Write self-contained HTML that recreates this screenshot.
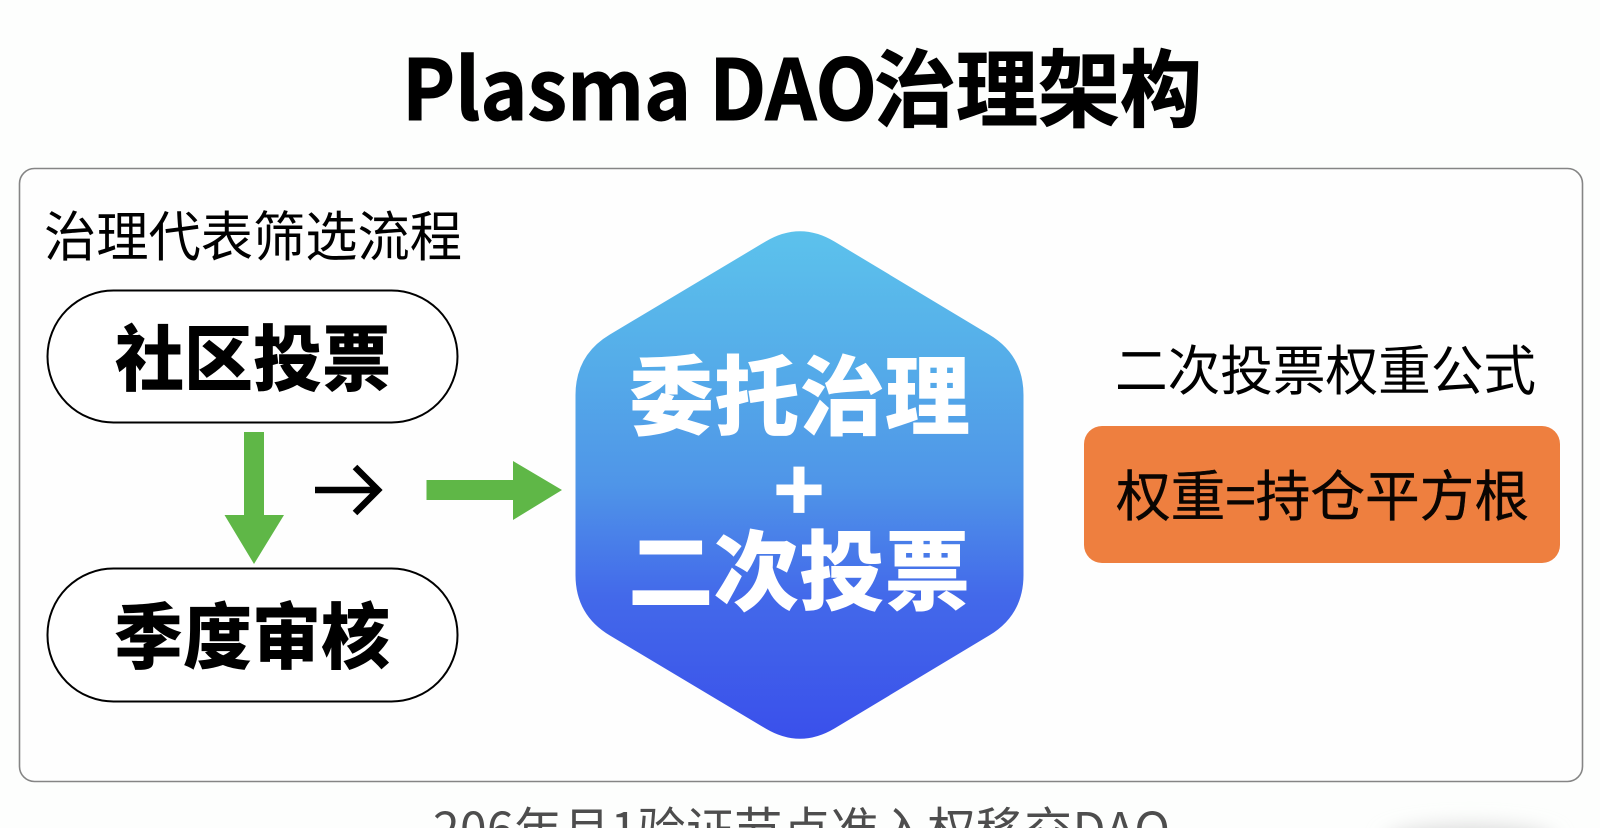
<!DOCTYPE html>
<html><head><meta charset="utf-8"><style>
html,body{margin:0;padding:0;width:1600px;height:828px;overflow:hidden;background:#fdfefd}
svg{display:block}
text{font-family:"Liberation Sans","Noto Sans CJK SC",sans-serif}
.n{font-family:"Noto Sans CJK SC",sans-serif}
</style></head><body>
<svg width="1600" height="828" viewBox="0 0 1600 828" xmlns="http://www.w3.org/2000/svg">
<defs>
<linearGradient id="g" x1="0" y1="232" x2="0" y2="738" gradientUnits="userSpaceOnUse">
<stop offset="0" stop-color="#5cc2ec"/>
<stop offset=".25" stop-color="#55ade9"/>
<stop offset=".5" stop-color="#4f95e8"/>
<stop offset=".72" stop-color="#4369ea"/>
<stop offset="1" stop-color="#3a50eb"/>
</linearGradient>
<filter id="b" x="-30%" y="-200%" width="160%" height="500%"><feGaussianBlur stdDeviation="10"/></filter>
</defs>
<rect width="1600" height="828" fill="#fdfefd"/>
<ellipse cx="1470" cy="842" rx="85" ry="16" fill="#d8d8d8" filter="url(#b)"/>
<rect x="19.5" y="168.5" width="1563" height="613" rx="15" fill="#fefefe" stroke="#858585" stroke-width="1.6"/>

<text class="n" x="402" y="120" font-size="84" font-weight="700" fill="#000" stroke="#000" stroke-width="1" textLength="475" lengthAdjust="spacingAndGlyphs">Plasma DAO</text>
<text class="n" x="874" y="120" font-size="84" font-weight="700" fill="#000" stroke="#000" stroke-width="1" textLength="328" lengthAdjust="spacingAndGlyphs">治理架构</text>
<text class="n" x="44" y="256" font-size="54" fill="#000" textLength="418" lengthAdjust="spacingAndGlyphs">治理代表筛选流程</text>

<rect x="47.5" y="290.5" width="410" height="132" rx="66" fill="#fff" stroke="#000" stroke-width="2"/>
<text class="n" x="115" y="385" font-size="72" font-weight="900" fill="#000" textLength="276" lengthAdjust="spacingAndGlyphs">社区投票</text>
<rect x="47.5" y="568.5" width="410" height="133" rx="66" fill="#fff" stroke="#000" stroke-width="2"/>
<text class="n" x="114" y="663" font-size="72" font-weight="900" fill="#000" textLength="276" lengthAdjust="spacingAndGlyphs">季度审核</text>

<polygon points="244,432 264,432 264,515 284,515 254,564 224.5,515 244,515" fill="#5fb747"/>
<polygon points="426.5,480 513,480 513,461 562,490 513,520 513,500 426.5,500" fill="#5fb747"/>
<path d="M315 490H377M355 467L378 490L355 513" fill="none" stroke="#000" stroke-width="6.5"/>

<path d="M575.5 395 Q575.5 355 609.9 334.5 L765.6 241.5 Q800 221 834.4 241.5 L989.1 334.5 Q1023.5 355 1023.5 395 L1023.5 575 Q1023.5 615 989.1 635.5 L834.4 728.5 Q800 749 765.6 728.5 L609.9 635.5 Q575.5 615 575.5 575 Z" fill="url(#g)"/>
<text class="n" x="629" y="428" font-size="87" font-weight="900" fill="#fff" textLength="341" lengthAdjust="spacingAndGlyphs">委托治理</text>
<text class="n" x="799" y="522" font-size="85" font-weight="900" fill="#fff" text-anchor="middle">+</text>
<text class="n" x="628" y="603" font-size="87" font-weight="900" fill="#fff" textLength="342" lengthAdjust="spacingAndGlyphs">二次投票</text>

<text class="n" x="1115" y="390" font-size="54" fill="#000" textLength="421" lengthAdjust="spacingAndGlyphs">二次投票权重公式</text>
<rect x="1084" y="426" width="476" height="137" rx="18" fill="#ee7f3f"/>
<text class="n" y="516" font-size="55" fill="#0a0502" stroke="#0a0502" stroke-width=".4" textLength="413" lengthAdjust="spacingAndGlyphs" x="1116">权重=持仓平方根</text>

<text class="n" x="433" y="847" font-size="48" fill="#4d4d4d" textLength="737" lengthAdjust="spacing">206年月1验证节点准入权移交DAO</text>
</svg>
</body></html>
